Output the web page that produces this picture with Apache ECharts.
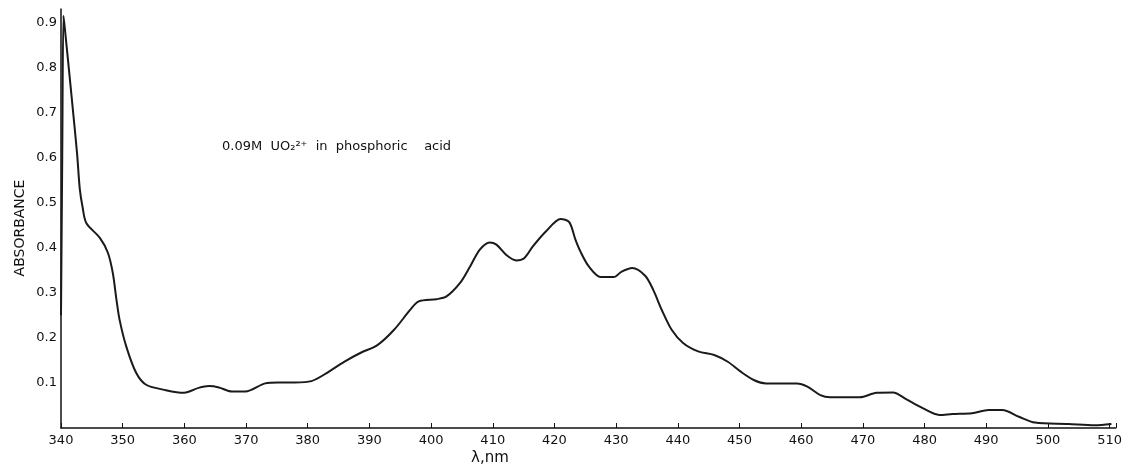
<!DOCTYPE html>
<html>
<head>
<meta charset="utf-8">
<script src="https://cdn.jsdelivr.net/npm/echarts@6/dist/echarts.min.js"></script>
<style>html,body{margin:0;padding:0;background:#fff}#c{width:1125px;height:469px}</style>
</head>
<body>
<div id="c"></div>
<script>
var wavelength = [340, 340.2, 340.4, 340.6, 341.4, 341.9, 342.6, 343.05, 343.5, 344.1, 346.3, 347.6, 348.4, 349.0, 349.5, 350.6, 352.2, 353.8, 357.0, 359.9, 361.0, 362.3, 364.0, 365.6, 367.7, 369.9, 373.1, 375.2, 377.9, 380.6, 383.2, 385.9, 388.6, 391.3, 394.0, 396.6, 398.0, 400.9, 402.5, 404.7, 406.3, 407.9, 409.5, 410.6, 412.2, 413.8, 415.1, 416.5, 418.6, 421.0, 422.4, 423.4, 424.2, 425.6, 427.5, 429.6, 430.9, 432.6, 434.7, 436.0, 437.4, 439.0, 440.9, 443.3, 445.9, 448.1, 450.2, 452.4, 454.3, 459.3, 461.0, 463.1, 464.7, 469.5, 472.2, 474.9, 477.0, 479.7, 482.4, 484.5, 487.7, 490.4, 492.6, 495.3, 497.9, 503.3, 507.6, 510.3];
var absorbance = [0.25, 0.6, 0.915, 0.89, 0.78, 0.71, 0.61, 0.53, 0.49, 0.455, 0.422, 0.389, 0.344, 0.284, 0.24, 0.18, 0.122, 0.096, 0.084, 0.078, 0.082, 0.089, 0.093, 0.090, 0.081, 0.081, 0.099, 0.101, 0.101, 0.104, 0.123, 0.147, 0.167, 0.184, 0.218, 0.262, 0.281, 0.286, 0.292, 0.322, 0.358, 0.396, 0.412, 0.407, 0.384, 0.372, 0.377, 0.403, 0.436, 0.464, 0.457, 0.418, 0.392, 0.358, 0.335, 0.335, 0.347, 0.355, 0.338, 0.307, 0.262, 0.218, 0.188, 0.170, 0.162, 0.147, 0.125, 0.106, 0.099, 0.099, 0.092, 0.073, 0.068, 0.068, 0.078, 0.079, 0.064, 0.044, 0.029, 0.031, 0.033, 0.040, 0.040, 0.025, 0.012, 0.009, 0.006, 0.009];
var yTickLabels = ['', '0.1', '0.2', '0.3', '0.4', '0.5', '0.6', '0.7', '0.8', '0.9'];

var pts = wavelength.map(function (w, i) { return [w, absorbance[i]]; });
var font = '"DejaVu Sans", sans-serif';
var chart = echarts.init(document.getElementById('c'));
chart.setOption({
  animation: false,
  grid: { left: 61, right: 5, top: 9, bottom: 41 },
  xAxis: {
    type: 'value', min: 340, max: 511, interval: 10,
    axisLine: { lineStyle: { color: '#111', width: 1.5 } },
    axisTick: { inside: true, length: 5, lineStyle: { color: '#111' } },
    axisLabel: { color: '#111', fontSize: 13, fontFamily: font, margin: 6,
      formatter: function (v) { return v <= 510 ? String(v) : ''; } },
    splitLine: { show: false }
  },
  yAxis: {
    type: 'value', min: 0, max: 0.93, interval: 0.1,
    axisLine: { show: true, lineStyle: { color: '#111', width: 1.5 } },
    axisTick: { show: false },
    axisLabel: { color: '#111', fontSize: 13, fontFamily: font, margin: 4,
      formatter: function (v) {
        var i = Math.round(v * 10);
        if (Math.abs(v * 10 - i) > 0.01) return '';
        return yTickLabels[i] || '';
      } },
    splitLine: { show: false }
  },
  series: [{
    type: 'line', data: pts, showSymbol: false, smooth: 0.3,
    lineStyle: { color: '#1a1a1a', width: 2 }
  }],
  graphic: [
    { type: 'text', left: 222, top: 140,
      style: { text: '0.09M  UO\u2082\u00B2\u207A  in  phosphoric    acid', fill: '#111', font: '13px ' + font } },
    { type: 'text', x: 20, y: 228, rotation: Math.PI / 2,
      style: { text: 'ABSORBANCE', fill: '#111', font: '14px ' + font, textAlign: 'center', textVerticalAlign: 'middle' } },
    { type: 'text', x: 490, y: 458,
      style: { text: '\u03BB,nm', fill: '#111', font: '15px ' + font, textAlign: 'center', textVerticalAlign: 'middle' } }
  ]
});
</script>
</body>
</html>
